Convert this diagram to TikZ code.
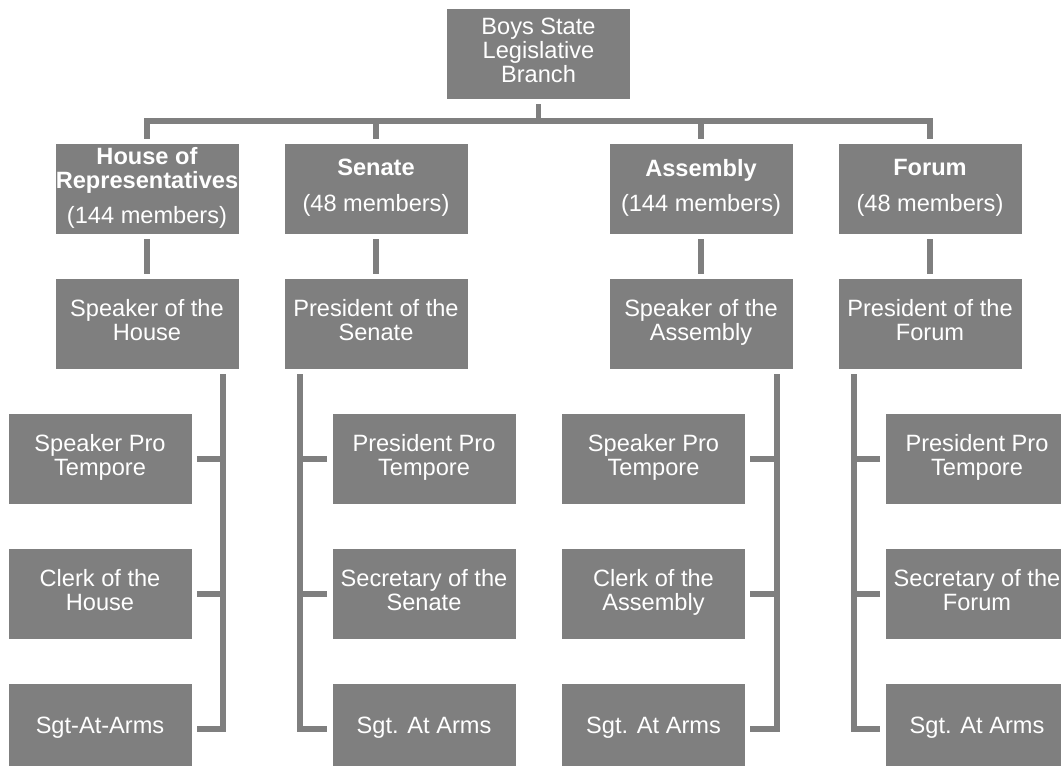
\documentclass[tikz,border=0pt]{standalone}
\usepackage{fontspec}
\setmainfont{Liberation Sans}

\definecolor{boxgray}{RGB}{127,127,127}

\begin{document}
\begin{tikzpicture}[
  x=0.75pt,
  y=-0.75pt,
  box/.style={
    rectangle,
    fill=boxgray,
    text=white,
    align=center,
    inner sep=0pt,
    outer sep=4.1pt,
    minimum width=137.25pt,
    minimum height=67.5pt,
    font=\fontsize{17.7}{18}\selectfont,
    execute at begin node=\strut,
    execute at end node=\strut,
  },
  link/.style={
    draw=boxgray,
    line width=4pt,
  },
]
  \useasboundingbox (0, 0) rectangle (1061, 765);

  \node[box] (top) at (538.5, 54) {Boys State\\Legislative\\Branch};

  \node[box] (h) at (147, 189) {\textbf{House of}\\\textbf{Representatives}\\[8.5pt](144 members)};
  \node[box] (s) at (376, 189) {\textbf{Senate}\\[8.5pt](48 members)};
  \node[box] (a) at (701, 189) {\textbf{Assembly}\\[8.5pt](144 members)};
  \node[box] (f) at (930, 189) {\textbf{Forum}\\[8.5pt](48 members)};

  \node[box] (hs) at (147, 324) {Speaker of the\\House};
  \node[box] (ss) at (376, 324) {President of the\\Senate};
  \node[box] (as) at (701, 324) {Speaker of the\\Assembly};
  \node[box] (fs) at (930, 324) {President of the\\Forum};

  \node[box] (h1) at (100, 459) {Speaker Pro\\Tempore};
  \node[box] (h2) at (100, 594) {Clerk of the\\House};
  \node[box] (h3) at (100, 729) {Sgt-At-Arms};

  \node[box] (s1) at (424, 459) {President Pro\\Tempore};
  \node[box] (s2) at (424, 594) {Secretary of the\\Senate};
  \node[box] (s3) at (424, 729) {Sgt. At Arms};

  \node[box] (a1) at (653.5, 459) {Speaker Pro\\Tempore};
  \node[box] (a2) at (653.5, 594) {Clerk of the\\Assembly};
  \node[box] (a3) at (653.5, 729) {Sgt. At Arms};

  \node[box] (f1) at (977, 459) {President Pro\\Tempore};
  \node[box] (f2) at (977, 594) {Secretary of the\\Forum};
  \node[box] (f3) at (977, 729) {Sgt. At Arms};

  % Top bus
  \coordinate (bus) at (538.5, 121);
  \draw[link] (h.north) |- (bus) -| (f.north);
  \draw[link] (top.south) -- (top.south |- bus);
  \draw[link] (s.north) -- (s.north |- bus);
  \draw[link] (a.north) -- (a.north |- bus);

  \draw[link] (h) -- (hs);
  \draw[link] (s) -- (ss);
  \draw[link] (a) -- (as);
  \draw[link] (f) -- (fs);

  % Side rails
  \coordinate (hv) at (223, 0);
  \coordinate (sv) at (300, 0);
  \coordinate (av) at (777, 0);
  \coordinate (fv) at (854, 0);

  \draw[link] (hs.south -| hv) |- (h3.east);
  \draw[link] (h1.east) -- (h1.east -| hv);
  \draw[link] (h2.east) -- (h2.east -| hv);

  \draw[link] (ss.south -| sv) |- (s3.west);
  \draw[link] (s1.west) -- (s1.west -| sv);
  \draw[link] (s2.west) -- (s2.west -| sv);

  \draw[link] (as.south -| av) |- (a3.east);
  \draw[link] (a1.east) -- (a1.east -| av);
  \draw[link] (a2.east) -- (a2.east -| av);

  \draw[link] (fs.south -| fv) |- (f3.west);
  \draw[link] (f1.west) -- (f1.west -| fv);
  \draw[link] (f2.west) -- (f2.west -| fv);
\end{tikzpicture}
\end{document}
